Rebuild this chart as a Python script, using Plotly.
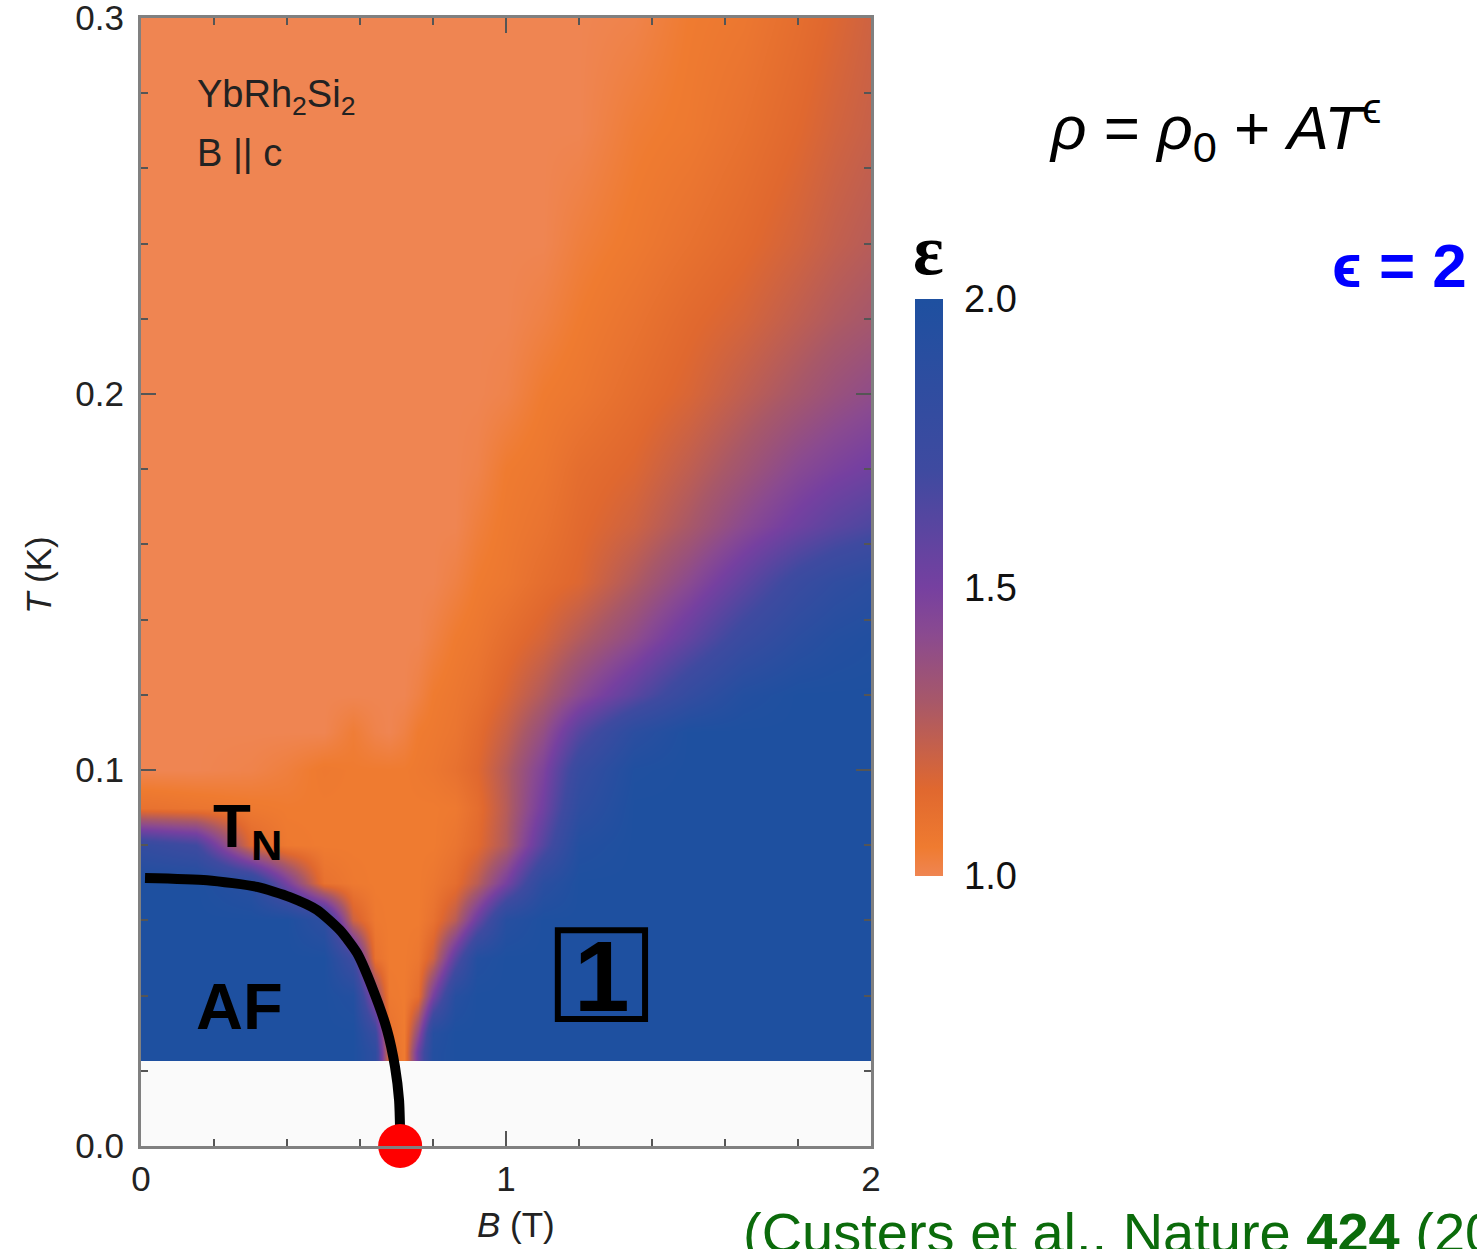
import plotly.graph_objects as go

# Magnetic field grid (T) and temperature grid (K) of the exponent map
B_FIELD = [0, 0.15, 0.3, 0.4, 0.5, 0.58, 0.64, 0.68, 0.72, 0.76, 0.8, 0.86,
           0.92, 1.0, 1.1, 1.2, 1.35, 1.5, 1.65, 1.8, 1.9, 2.0]
TEMPS = [0.025, 0.03, 0.04, 0.05, 0.06, 0.07, 0.08, 0.09, 0.10, 0.11, 0.12,
         0.135, 0.15, 0.165, 0.18, 0.20, 0.22, 0.24, 0.27, 0.30]

# Resistivity exponent epsilon, one row per temperature
EPS = [
    [2, 2, 2, 2, 2, 2, 1.85, 1.12, 1.05, 1.55, 1.95, 2, 2, 2, 2, 2, 2, 2, 2, 2, 2, 2],
    [2, 2, 2, 2, 2, 2, 1.75, 1.10, 1.05, 1.40, 1.92, 2, 2, 2, 2, 2, 2, 2, 2, 2, 2, 2],
    [2, 2, 2, 2, 2, 1.95, 1.40, 1.06, 1.05, 1.12, 1.50, 1.92, 2, 2, 2, 2, 2, 2, 2, 2, 2, 2],
    [2, 2, 2, 2, 2, 1.70, 1.10, 1.05, 1.05, 1.07, 1.20, 1.60, 1.95, 2, 2, 2, 2, 2, 2, 2, 2, 2],
    [2, 2, 2, 2, 1.85, 1.20, 1.06, 1.05, 1.05, 1.05, 1.10, 1.25, 1.55, 1.92, 2, 2, 2, 2, 2, 2, 2, 2],
    [2, 2, 1.9, 1.5, 1.10, 1.06, 1.05, 1.05, 1.05, 1.05, 1.07, 1.12, 1.25, 1.50, 1.88, 2, 2, 2, 2, 2, 2, 2],
    [1.8, 1.7, 1.15, 1.06, 1.05, 1.05, 1.05, 1.05, 1.05, 1.05, 1.05, 1.08, 1.14, 1.28, 1.62, 1.95, 2, 2, 2, 2, 2, 2],
    [1.1, 1.08, 1.06, 1.05, 1.05, 1.05, 1.05, 1.05, 1.05, 1.05, 1.05, 1.06, 1.12, 1.26, 1.52, 1.85, 2, 2, 2, 2, 2, 2],
    [1.0, 1.0, 1.01, 1.03, 1.06, 1.05, 1.05, 1.05, 1.05, 1.06, 1.07, 1.10, 1.15, 1.27, 1.47, 1.78, 1.98, 2, 2, 2, 2, 2],
    [1.0, 1.0, 1.0, 1.0, 1.0, 1.04, 1.01, 1.0, 1.02, 1.05, 1.06, 1.08, 1.13, 1.22, 1.38, 1.62, 1.88, 2, 2, 2, 2, 2],
    [1.0, 1.0, 1.0, 1.0, 1.0, 1.0, 1.0, 1.0, 1.0, 1.02, 1.05, 1.07, 1.10, 1.17, 1.28, 1.42, 1.60, 1.80, 1.95, 2, 2, 2],
    [1.0, 1.0, 1.0, 1.0, 1.0, 1.0, 1.0, 1.0, 1.0, 1.0, 1.02, 1.05, 1.07, 1.12, 1.18, 1.27, 1.40, 1.57, 1.75, 1.88, 1.94, 1.97],
    [1.0, 1.0, 1.0, 1.0, 1.0, 1.0, 1.0, 1.0, 1.0, 1.0, 1.0, 1.02, 1.05, 1.07, 1.12, 1.16, 1.28, 1.42, 1.58, 1.75, 1.83, 1.88],
    [1.0, 1.0, 1.0, 1.0, 1.0, 1.0, 1.0, 1.0, 1.0, 1.0, 1.0, 1.0, 1.03, 1.06, 1.09, 1.14, 1.20, 1.30, 1.42, 1.53, 1.60, 1.65],
    [1.0, 1.0, 1.0, 1.0, 1.0, 1.0, 1.0, 1.0, 1.0, 1.0, 1.0, 1.0, 1.01, 1.05, 1.07, 1.12, 1.16, 1.24, 1.33, 1.43, 1.48, 1.52],
    [1.0, 1.0, 1.0, 1.0, 1.0, 1.0, 1.0, 1.0, 1.0, 1.0, 1.0, 1.0, 1.0, 1.01, 1.05, 1.07, 1.12, 1.17, 1.24, 1.31, 1.36, 1.40],
    [1.0, 1.0, 1.0, 1.0, 1.0, 1.0, 1.0, 1.0, 1.0, 1.0, 1.0, 1.0, 1.0, 1.0, 1.02, 1.05, 1.09, 1.14, 1.18, 1.24, 1.28, 1.31],
    [1.0, 1.0, 1.0, 1.0, 1.0, 1.0, 1.0, 1.0, 1.0, 1.0, 1.0, 1.0, 1.0, 1.0, 1.0, 1.03, 1.06, 1.10, 1.14, 1.19, 1.23, 1.26],
    [1.0, 1.0, 1.0, 1.0, 1.0, 1.0, 1.0, 1.0, 1.0, 1.0, 1.0, 1.0, 1.0, 1.0, 1.0, 1.0, 1.04, 1.06, 1.10, 1.15, 1.19, 1.22],
    [1.0, 1.0, 1.0, 1.0, 1.0, 1.0, 1.0, 1.0, 1.0, 1.0, 1.0, 1.0, 1.0, 1.0, 1.0, 1.0, 1.01, 1.05, 1.07, 1.12, 1.16, 1.20],
]

# Neel temperature line T_N(B)
TN_B = [0.011, 0.181, 0.318, 0.408, 0.482, 0.545, 0.592, 0.636, 0.674, 0.696, 0.707, 0.710]
TN_T = [0.0713, 0.0707, 0.0689, 0.0662, 0.0628, 0.0574, 0.0513, 0.0415, 0.0309, 0.0210, 0.0122, 0.0037]

# Quantum critical point
QCP_B = [0.71]
QCP_T = [0.0]

X_TICKS = [0, 1, 2]
X_LABELS = ["0", "1", "2"]
Y_TICKS = [0, 0.1, 0.2, 0.3]
Y_LABELS = ["0.0", "0.1", "0.2", "0.3"]
CB_TICKS = [1.0, 1.5, 2.0]
CB_LABELS = ["1.0", "1.5", "2.0"]

SANS = "Liberation Sans, Arial, sans-serif"

colorscale = [
    [0.00, "#ef8552"],
    [0.05, "#ef7b30"],
    [0.15, "#e0682f"],
    [0.30, "#a85868"],
    [0.42, "#8a4a90"],
    [0.50, "#7640a0"],
    [0.70, "#3f4aa0"],
    [1.00, "#1e50a0"],
]

# plot area in pixels: x 141..871, y 18..1146
L, R, TOP, BOT = 141, 871, 18, 1146
PW, PH = R - L, BOT - TOP


def px(x):
    return (x - L) / PW


def py(y):
    return (BOT - y) / PH


fig = go.Figure()

fig.add_trace(go.Heatmap(
    x=B_FIELD, y=TEMPS, z=EPS,
    zmin=1.0, zmax=2.0, zsmooth="best",
    colorscale=colorscale,
    colorbar=dict(
        x=px(915), xanchor="left", xpad=0,
        y=py(587.5), yanchor="middle", ypad=0,
        len=577 / PH, lenmode="fraction",
        thickness=28, outlinewidth=0,
        tickvals=CB_TICKS, ticktext=CB_LABELS,
        ticks="outside", ticklen=14, tickcolor="rgba(0,0,0,0)",
        tickfont=dict(family=SANS, size=38, color="#111"),
    ),
    hoverinfo="skip",
))

fig.add_trace(go.Scatter(
    x=TN_B, y=TN_T, mode="lines",
    line=dict(color="black", width=10, shape="spline", smoothing=0.6),
    hoverinfo="skip", showlegend=False,
))

fig.add_trace(go.Scatter(
    x=QCP_B, y=QCP_T, mode="markers",
    marker=dict(color="#ff0000", size=44, line=dict(width=0)),
    cliponaxis=False, hoverinfo="skip", showlegend=False,
))

# boxed label "1"
fig.add_shape(type="rect", xref="x", yref="y",
              x0=1.142, x1=1.381, y0=0.0338, y1=0.0574,
              line=dict(color="black", width=6), fillcolor="rgba(0,0,0,0)")


def note(text, x, y, size, xref="x", yref="y", color="black", family=SANS,
         xanchor="center", yanchor="middle", **kw):
    return dict(text=text, x=x, y=y, xref=xref, yref=yref, showarrow=False,
                xanchor=xanchor, yanchor=yanchor,
                font=dict(family=family, size=size, color=color), **kw)


annotations = [
    note("YbRh<sub>2</sub>Si<sub>2</sub>", 0.148, 0.279, 38, color="#222", xanchor="left"),
    note("B || c", 0.148, 0.264, 38, color="#222", xanchor="left"),
    note("<b>T<sub>N</sub></b>", 0.293, 0.084, 62),
    note("<b>AF</b>", 0.271, 0.0372, 65),
    note("<b>1</b>", 1.262, 0.0452, 100),
    # axis titles
    note("<i>T</i> (K)", px(38), py(575), 35, "paper", "paper", color="#222", textangle=-90),
    note("<i>B</i> (T)", px(516), py(1225), 35, "paper", "paper", color="#222"),
    # colour bar title
    note("<b>ε</b>", px(928), py(250), 72, "paper", "paper", family="Liberation Serif, serif"),
    # resistivity law
    note("<i>ρ</i> = <i>ρ</i><sub>0</sub> + <i>AT</i><sup>ϵ</sup>", px(1215), py(128), 62,
         "paper", "paper"),
    note("<b>ϵ = 2</b>", px(1330), py(265), 62, "paper", "paper", color="#0000ff",
         xanchor="left"),
    # reference
    note("(Custers et al., Nature <b>424</b> (2003))", px(741), py(1199), 56, "paper", "paper",
         color="#0b6b0b", xanchor="left", yanchor="top"),
]

axis_common = dict(
    showgrid=False, zeroline=False, automargin=False,
    showline=True, linecolor="#808080", linewidth=3, mirror="allticks",
    ticks="inside", ticklen=15, tickwidth=2, tickcolor="#555",
    ticklabeloverflow="allow",
    tickfont=dict(family=SANS, size=35, color="#222"),
)

fig.update_layout(
    width=1477, height=1249, autosize=False,
    margin=dict(l=L, r=1477 - R, t=TOP, b=1249 - BOT, pad=0, autoexpand=False),
    paper_bgcolor="white", plot_bgcolor="#fafafa",
    showlegend=False,
    annotations=annotations,
    xaxis=dict(range=[0, 2], tickvals=X_TICKS, ticktext=X_LABELS,
               ticklabelstandoff=0,
               minor=dict(dtick=0.2, ticks="inside", ticklen=7, tickwidth=2, tickcolor="#555"),
               **axis_common),
    yaxis=dict(range=[0, 0.30000001], tickvals=Y_TICKS, ticktext=Y_LABELS,
               ticklabelstandoff=7,
               minor=dict(dtick=0.02, ticks="inside", ticklen=7, tickwidth=2, tickcolor="#555"),
               **axis_common),
)

fig.write_html("out.html")
